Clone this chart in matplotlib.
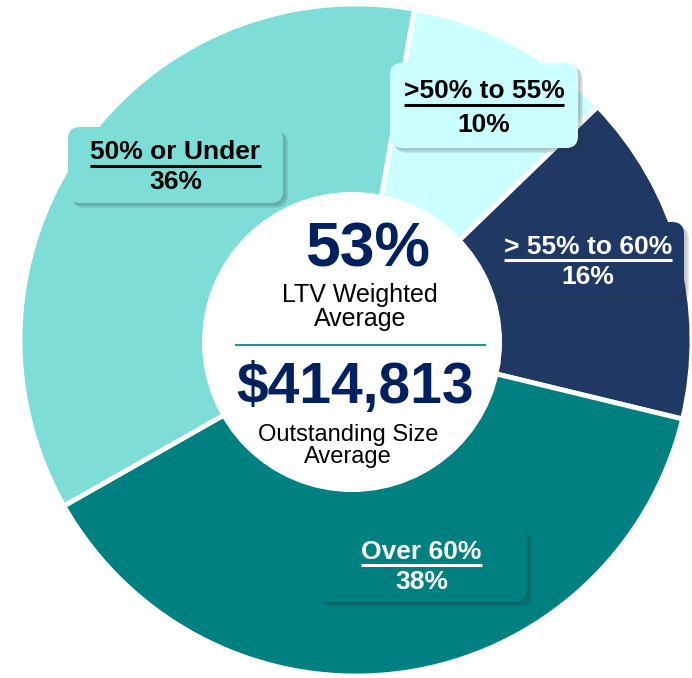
import matplotlib.pyplot as plt
from matplotlib.patches import FancyBboxPatch, Circle

plt.rcParams['font.family'] = ['Liberation Sans', 'DejaVu Sans']

# data
labels = ['>50% to 55%', '> 55% to 60%', 'Over 60%', '50% or Under']
shares = [10, 16, 38, 36]
colors = ['#CCFFFF', '#203864', '#008080', '#7FDDD8']
text_colors = ['black', 'white', 'white', 'black']
ltv_avg = '53%'
size_avg = '$414,813'

W, H = 692, 678
fig = plt.figure(figsize=(W / 100, H / 100), dpi=100)
ax = fig.add_axes([0, 0, 1, 1])

cx, cy, R = 356, 340, 336
# y axis is inverted, so counterclock=True draws clockwise on screen
ax.pie(shares, colors=colors, startangle=-80, counterclock=True,
       center=(cx, cy), radius=R, frame=True,
       wedgeprops=dict(edgecolor='white', linewidth=3.5))
ax.set_xlim(0, W)
ax.set_ylim(H, 0)
ax.set_aspect('equal')
ax.axis('off')

ax.add_patch(Circle((352, 342), 150, facecolor='white', edgecolor='none', zorder=3))

# label boxes: (x0, y0, x1, y1) in pixels
boxes = [(390, 63, 578, 148), (492, 222, 684, 297),
         (316, 527, 527, 602), (68, 127, 283, 203)]

fig.canvas.draw()
renderer = fig.canvas.get_renderer()

for lab, val, col, tc, (x0, y0, x1, y1) in zip(labels, shares, colors, text_colors, boxes):
    w, h = x1 - x0, y1 - y0
    for i, a in enumerate([0.06, 0.07, 0.08, 0.1]):
        d = 2 + i
        ax.add_patch(FancyBboxPatch((x0 + d, y0 + d), w, h,
                                    boxstyle='round,pad=0,rounding_size=12',
                                    facecolor='#333333', edgecolor='none',
                                    alpha=a, zorder=4))
    ax.add_patch(FancyBboxPatch((x0, y0), w, h,
                                boxstyle='round,pad=0,rounding_size=12',
                                facecolor=col, edgecolor='none', zorder=5))
    xm = (x0 + x1) / 2
    t = ax.text(xm, y0 + h * 0.33, lab, ha='center', va='center',
                fontsize=19, fontweight='bold', color=tc, zorder=6)
    ax.text(xm, y0 + h * 0.73, f'{val}%', ha='center', va='center',
            fontsize=19, fontweight='bold', color=tc, zorder=6)
    bb = t.get_window_extent(renderer).transformed(ax.transData.inverted())
    yb = max(bb.y0, bb.y1) + 1.5
    ax.plot([min(bb.x0, bb.x1), max(bb.x0, bb.x1)], [yb, yb], color=tc,
            linewidth=2.2, zorder=6, solid_capstyle='butt')

navy = '#002060'
ax.text(368, 250, ltv_avg, ha='center', va='center', fontsize=45,
        fontweight='bold', color=navy, zorder=6)
ax.text(360, 307, 'LTV Weighted\nAverage', ha='center', va='center',
        fontsize=18, color='black', linespacing=0.95, zorder=6)
ax.plot([236, 485], [345, 345], color='#1A9A96', linewidth=1.5, zorder=6)
ax.text(355, 388, size_avg, ha='center', va='center', fontsize=41,
        fontweight='bold', color=navy, zorder=6)
ax.text(348, 446, 'Outstanding Size\nAverage', ha='center', va='center',
        fontsize=17, color='black', linespacing=1.0, zorder=6)

fig.savefig('out.png', dpi=100)
